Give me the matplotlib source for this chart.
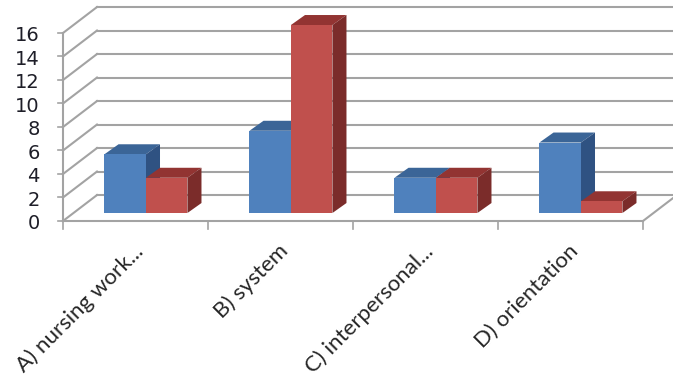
import matplotlib.pyplot as plt
from matplotlib.patches import Polygon

# data
categories = ["A) nursing work...", "B) system", "C) interpersonal...", "D) orientation"]
blue_vals = [5, 7, 3, 6]
red_vals = [3, 16, 3, 1]
y_ticks = [0, 2, 4, 6, 8, 10, 12, 14, 16]

# colours (front, top, side)
blue_cols = ("#4f81bd", "#3b6597", "#2f5282")
red_cols = ("#c0504d", "#923432", "#7b2c2a")
grid_col = "#a3a3a3"

# fake 3D geometry in data units (1 category = 1 x unit)
DX, DY = 0.2345, 2.21      # back wall offset
BX, BY = 0.072, 0.68       # where the bar fronts stand on the floor
TX, TY = 0.097, 0.85       # bar depth
W = 0.286                  # bar width

fig = plt.figure(figsize=(6.73, 3.79), dpi=100)
ax = fig.add_axes([0, 0, 1, 1])
ax.set_xlim(-63 / 145, 610 / 145)
ax.set_ylim(-158 / 11.75, 221 / 11.75)
ax.axis("off")

n = len(categories)

# walls / gridlines
for v in y_ticks:
    ax.plot([0, DX], [v, v + DY], color=grid_col, lw=1.5, zorder=1)
    ax.plot([DX, n + DX], [v + DY, v + DY], color=grid_col, lw=1.5, zorder=1)
    ax.plot([0, -0.035], [v, v], color=grid_col, lw=1.2, zorder=1)
    ax.text(-0.16, v - 0.25, str(v), ha="right", va="center",
            fontsize=14, color="#1e1e28")
ax.plot([0, 0], [0, y_ticks[-1]], color=grid_col, lw=1.5, zorder=1)
ax.plot([0, n], [0, 0], color=grid_col, lw=1.5, zorder=1)
ax.plot([n, n + DX], [0, DY], color=grid_col, lw=1.5, zorder=1)
for k in range(n + 1):
    ax.plot([k, k], [0, -0.7], color=grid_col, lw=1.2, zorder=1)


def bar3d(x0, val, cols, z):
    y0 = BY
    y1 = BY + val
    top = Polygon([(x0, y1), (x0 + W, y1), (x0 + W + TX, y1 + TY), (x0 + TX, y1 + TY)],
                  closed=True, facecolor=cols[1], edgecolor="none", zorder=z)
    side = Polygon([(x0 + W, y0), (x0 + W + TX, y0 + TY), (x0 + W + TX, y1 + TY), (x0 + W, y1)],
                   closed=True, facecolor=cols[2], edgecolor="none", zorder=z)
    ax.add_patch(top)
    ax.add_patch(side)
    ax.bar(x0, val, width=W, bottom=y0, align="edge", color=cols[0],
           edgecolor="none", zorder=z)


for i in range(n):
    xc = i + 0.5 + BX
    bar3d(xc - W, blue_vals[i], blue_cols, 3 + 2 * i)
    bar3d(xc, red_vals[i], red_cols, 4 + 2 * i)

# category labels
for i, lab in enumerate(categories):
    ax.text(i + 0.53, -2.3, lab, rotation=45, ha="right", va="center",
            rotation_mode="anchor", fontsize=16, family="Lato", color="#262626")

fig.savefig("out.png", dpi=100)
